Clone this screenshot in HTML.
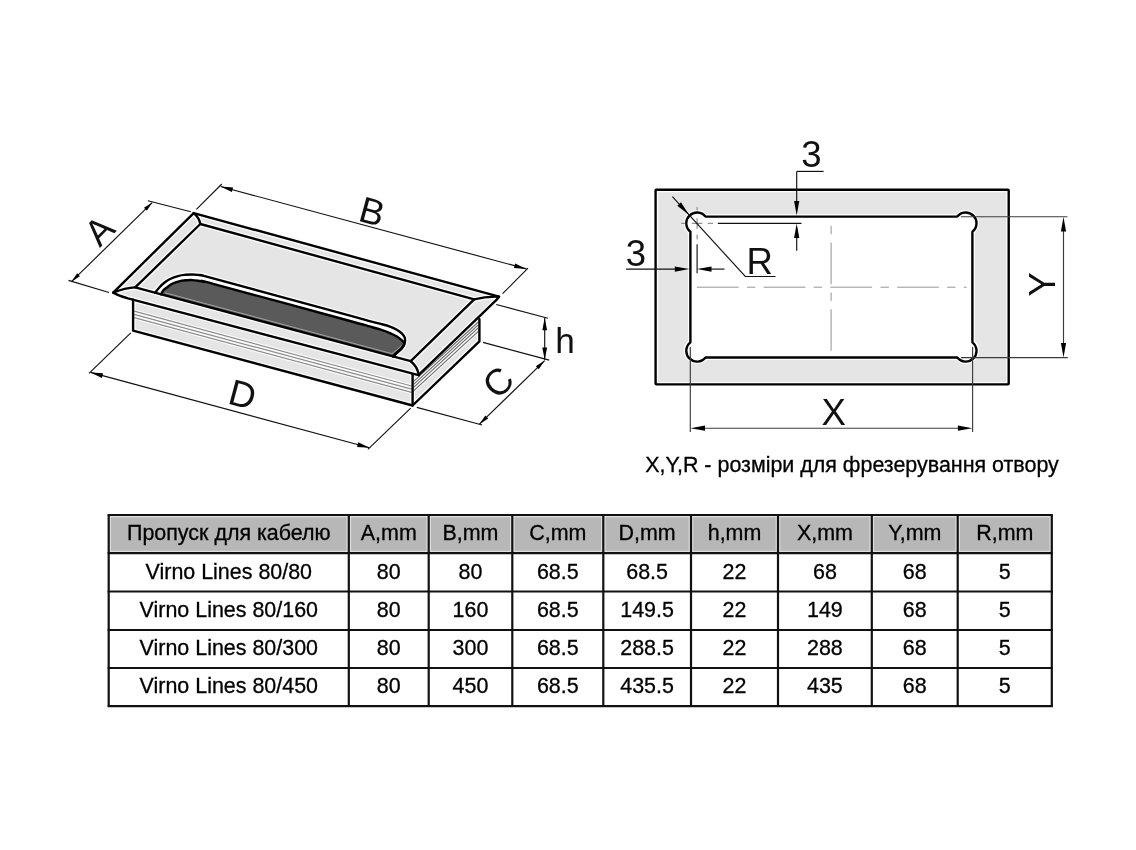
<!DOCTYPE html>
<html><head><meta charset="utf-8"><title>Virno Lines</title>
<style>
html,body{margin:0;padding:0;background:#fff;}
body{width:1136px;height:850px;overflow:hidden;position:relative;font-family:"Liberation Sans",sans-serif;}
svg{position:absolute;left:0;top:0;display:block;will-change:transform;transform:translateZ(0)}
text{font-family:"Liberation Sans",sans-serif;fill:#111}
.tk{stroke:#000;stroke-width:2.4;fill:none;stroke-linejoin:round;stroke-linecap:round}
.th{stroke:#111;stroke-width:1.15;fill:none}
.tg{stroke:#3c3c3c;stroke-width:1.15;fill:none}
.gl{stroke:#777;stroke-width:1;fill:none}
.cl{stroke:#8e8e8e;stroke-width:.95;fill:none}
.gr2{stroke:#6a6a6a;stroke-width:1.15;fill:none}
.gr{stroke:#8c8c8c;stroke-width:1.2;fill:none}
.hl{stroke:#fff;stroke-width:5;fill:none;stroke-linejoin:round;stroke-linecap:butt;opacity:.9}
.hg{stroke:#fff;stroke-width:3.4;fill:none;opacity:.9}
.ll{stroke:#a2a2a2;stroke-width:1;fill:none}
.ar{fill:#000;stroke:none}
.t{font-size:21.45px;text-anchor:middle;fill:#000;stroke:#000;stroke-width:.3}
.big{font-size:36.6px;text-anchor:middle}
</style></head><body>
<svg width="1136" height="850" viewBox="0 0 1136 850">
<rect x="0" y="0" width="1136" height="850" fill="#fff"/>
<!--LEFT-->
<g id="left">
<polygon points="133.10,299.60 412.60,374.60 479.40,319.20 479.40,341.40 412.60,405.50 133.10,330.70" fill="#e5e5e5"/>
<polygon points="113.20,292.60 193.70,213.10 499.00,296.70 418.90,375.00" fill="#e5e5e5"/>
<line class="hg" x1="134.10" y1="311.20" x2="411.60" y2="386.00"/>
<line class="hg" x1="134.10" y1="314.40" x2="411.60" y2="389.20"/>
<line class="hg" x1="134.10" y1="317.60" x2="411.60" y2="392.40"/>
<line class="hg" x1="413.60" y1="381.45" x2="478.30" y2="322.00"/>
<line class="hg" x1="413.60" y1="384.35" x2="478.30" y2="324.90"/>
<line class="hg" x1="413.60" y1="387.35" x2="478.30" y2="327.80"/>
<line class="hg" x1="413.60" y1="390.85" x2="478.30" y2="331.40"/>
<polyline class="hl" points="133.10,299.60 133.10,330.70 412.60,405.50 479.40,341.40 479.40,319.20"/>
<line class="hl" x1="412.60" y1="374.60" x2="412.60" y2="405.50"/>
<path class="hl" d="M155.20,292.76 C155.88,291.88 157.93,289.04 159.30,287.50 C160.67,285.96 161.68,284.88 163.40,283.50 C165.12,282.12 167.03,280.48 169.60,279.20 C172.17,277.92 176.15,276.53 178.80,275.80 C181.45,275.07 183.23,275.01 185.50,274.80 C187.77,274.59 190.32,274.53 192.40,274.55 C194.48,274.57 196.15,274.69 198.00,274.90 C199.85,275.11 200.67,275.13 203.50,275.80 C206.33,276.47 190.58,272.25 215.00,278.90 C239.42,285.55 324.42,308.72 350.00,315.70 C375.58,322.68 363.37,319.43 368.50,320.80 C373.63,322.17 377.22,322.93 380.80,323.90 C384.38,324.87 387.33,325.63 390.00,326.60 C392.67,327.57 394.83,328.57 396.80,329.70 C398.77,330.83 400.52,332.17 401.80,333.40 C403.08,334.63 403.95,335.87 404.50,337.10 C405.05,338.33 405.15,339.57 405.10,340.80 C405.05,342.03 404.75,343.27 404.20,344.50 C403.65,345.73 402.83,346.97 401.80,348.20 C400.77,349.43 399.47,350.52 398.00,351.90 C396.53,353.28 393.83,355.70 393.00,356.46"/>
<path class="hl" d="M418.50,375.20 L128,298.35 Q118.5,295.6 113.2,292.6 L193.7,213.1 L499.0,296.7 Q497.6,298.6 496.2,300.2 L419.20,374.40"/>
<polygon class="hl" points="135.20,287.40 200.30,224.00 474.20,299.40 410.70,361.20"/>
<path class="hl" d="M193.7,213.1 Q199.2,217.6 200.3,224.0"/>
<path class="hl" d="M113.2,292.6 Q125.2,287.8 135.2,287.4"/>
<path class="hl" d="M499.0,296.7 Q486.0,296.2 474.2,299.4"/>
<path class="hl" d="M410.7,361.2 Q417.2,366.2 418.9,375.0"/>
<path d="M155.20,292.76 C155.88,291.88 157.93,289.04 159.30,287.50 C160.67,285.96 161.68,284.88 163.40,283.50 C165.12,282.12 167.03,280.48 169.60,279.20 C172.17,277.92 176.15,276.53 178.80,275.80 C181.45,275.07 183.23,275.01 185.50,274.80 C187.77,274.59 190.32,274.53 192.40,274.55 C194.48,274.57 196.15,274.69 198.00,274.90 C199.85,275.11 200.67,275.13 203.50,275.80 C206.33,276.47 190.58,272.25 215.00,278.90 C239.42,285.55 324.42,308.72 350.00,315.70 C375.58,322.68 363.37,319.43 368.50,320.80 C373.63,322.17 377.22,322.93 380.80,323.90 C384.38,324.87 387.33,325.63 390.00,326.60 C392.67,327.57 394.83,328.57 396.80,329.70 C398.77,330.83 400.52,332.17 401.80,333.40 C403.08,334.63 403.95,335.87 404.50,337.10 C405.05,338.33 405.15,339.57 405.10,340.80 C405.05,342.03 404.75,343.27 404.20,344.50 C403.65,345.73 402.83,346.97 401.80,348.20 C400.77,349.43 399.47,350.52 398.00,351.90 C396.53,353.28 393.83,355.70 393.00,356.46 Z" fill="#fff"/>
<path d="M161.00,294.31 C161.40,293.64 162.48,291.39 163.40,290.30 C164.32,289.21 164.97,288.93 166.50,287.80 C168.03,286.67 170.03,284.68 172.60,283.50 C175.17,282.32 179.50,281.25 181.90,280.70 C184.30,280.15 185.25,280.30 187.00,280.20 C188.75,280.10 190.57,280.00 192.40,280.10 C194.23,280.20 196.15,280.50 198.00,280.80 C199.85,281.10 200.67,281.32 203.50,281.90 C206.33,282.48 190.58,277.78 215.00,284.30 C239.42,290.82 324.42,314.02 350.00,321.00 C375.58,327.98 363.37,324.75 368.50,326.20 C373.63,327.65 377.22,328.55 380.80,329.70 C384.38,330.85 387.33,331.97 390.00,333.10 C392.67,334.23 394.95,335.42 396.80,336.50 C398.65,337.58 399.97,338.65 401.10,339.60 C402.23,340.55 403.08,341.38 403.60,342.20 C404.12,343.02 404.50,343.50 404.20,344.50 C403.90,345.50 402.83,346.97 401.80,348.20 C400.77,349.43 399.47,350.52 398.00,351.90 C396.53,353.28 393.83,355.70 393.00,356.46 Z" fill="#5a5a5a"/>
<path class="ll" d="M164.8,292.73 L391.8,353.64 Q398.0,349.8 401.3,345.6"/>
<line class="gr" x1="134.10" y1="311.20" x2="411.60" y2="386.00"/>
<line class="gr" x1="134.10" y1="314.40" x2="411.60" y2="389.20"/>
<line class="gr" x1="134.10" y1="317.60" x2="411.60" y2="392.40"/>
<line class="gr2" x1="413.60" y1="381.45" x2="478.30" y2="322.00"/>
<line class="gr2" x1="413.60" y1="384.35" x2="478.30" y2="324.90"/>
<line class="gr2" x1="413.60" y1="387.35" x2="478.30" y2="327.80"/>
<line class="gr2" x1="413.60" y1="390.85" x2="478.30" y2="331.40"/>
<polyline class="tk" points="133.10,299.60 133.10,330.70 412.60,405.50 479.40,341.40 479.40,319.20"/>
<line class="tk" x1="412.60" y1="374.60" x2="412.60" y2="405.50"/>
<path class="tk" d="M155.20,292.76 C155.88,291.88 157.93,289.04 159.30,287.50 C160.67,285.96 161.68,284.88 163.40,283.50 C165.12,282.12 167.03,280.48 169.60,279.20 C172.17,277.92 176.15,276.53 178.80,275.80 C181.45,275.07 183.23,275.01 185.50,274.80 C187.77,274.59 190.32,274.53 192.40,274.55 C194.48,274.57 196.15,274.69 198.00,274.90 C199.85,275.11 200.67,275.13 203.50,275.80 C206.33,276.47 190.58,272.25 215.00,278.90 C239.42,285.55 324.42,308.72 350.00,315.70 C375.58,322.68 363.37,319.43 368.50,320.80 C373.63,322.17 377.22,322.93 380.80,323.90 C384.38,324.87 387.33,325.63 390.00,326.60 C392.67,327.57 394.83,328.57 396.80,329.70 C398.77,330.83 400.52,332.17 401.80,333.40 C403.08,334.63 403.95,335.87 404.50,337.10 C405.05,338.33 405.15,339.57 405.10,340.80 C405.05,342.03 404.75,343.27 404.20,344.50 C403.65,345.73 402.83,346.97 401.80,348.20 C400.77,349.43 399.47,350.52 398.00,351.90 C396.53,353.28 393.83,355.70 393.00,356.46"/>
<path class="tk" d="M161.00,294.31 C161.40,293.64 162.48,291.39 163.40,290.30 C164.32,289.21 164.97,288.93 166.50,287.80 C168.03,286.67 170.03,284.68 172.60,283.50 C175.17,282.32 179.50,281.25 181.90,280.70 C184.30,280.15 185.25,280.30 187.00,280.20 C188.75,280.10 190.57,280.00 192.40,280.10 C194.23,280.20 196.15,280.50 198.00,280.80 C199.85,281.10 200.67,281.32 203.50,281.90 C206.33,282.48 190.58,277.78 215.00,284.30 C239.42,290.82 324.42,314.02 350.00,321.00 C375.58,327.98 363.37,324.75 368.50,326.20 C373.63,327.65 377.22,328.55 380.80,329.70 C384.38,330.85 387.33,331.97 390.00,333.10 C392.67,334.23 394.95,335.42 396.80,336.50 C398.65,337.58 399.97,338.65 401.10,339.60 C402.23,340.55 403.08,341.38 403.60,342.20 C404.12,343.02 404.50,343.50 404.20,344.50 C403.90,345.50 402.83,346.97 401.80,348.20 C400.77,349.43 399.47,350.52 398.00,351.90 C396.53,353.28 393.83,355.70 393.00,356.46"/>
<path class="tk" d="M418.50,375.20 L128,298.35 Q118.5,295.6 113.2,292.6 L193.7,213.1 L499.0,296.7 Q497.6,298.6 496.2,300.2 L419.20,374.40"/>
<polygon class="tk" points="135.20,287.40 200.30,224.00 474.20,299.40 410.70,361.20"/>
<path class="tk" d="M193.7,213.1 Q199.2,217.6 200.3,224.0"/>
<path class="tk" d="M113.2,292.6 Q125.2,287.8 135.2,287.4"/>
<path class="tk" d="M499.0,296.7 Q486.0,296.2 474.2,299.4"/>
<path class="tk" d="M410.7,361.2 Q417.2,366.2 418.9,375.0"/>
<line class="th" x1="71.70" y1="281.40" x2="152.20" y2="202.60"/>
<path class="ar" d="M71.70,281.40 L77.09,273.33 L79.89,276.18Z"/>
<path class="ar" d="M152.20,202.60 L146.81,210.67 L144.01,207.82Z"/>
<line class="th" x1="68.50" y1="280.40" x2="109.00" y2="292.50"/>
<line class="th" x1="147.90" y1="200.70" x2="190.80" y2="211.80"/>
<line class="th" x1="220.60" y1="186.50" x2="526.40" y2="268.90"/>
<path class="ar" d="M220.60,186.50 L233.10,187.38 L231.85,192.02Z"/>
<path class="ar" d="M526.40,268.90 L513.90,268.02 L515.15,263.38Z"/>
<line class="th" x1="196.40" y1="209.40" x2="221.80" y2="184.00"/>
<line class="th" x1="502.60" y1="293.60" x2="528.00" y2="268.20"/>
<line class="th" x1="90.60" y1="372.40" x2="369.50" y2="447.80"/>
<path class="ar" d="M90.60,372.40 L103.10,373.29 L101.85,377.93Z"/>
<path class="ar" d="M369.50,447.80 L357.00,446.91 L358.25,442.27Z"/>
<line class="th" x1="130.80" y1="332.80" x2="89.00" y2="373.40"/>
<line class="th" x1="410.70" y1="408.20" x2="367.90" y2="449.40"/>
<line class="th" x1="479.40" y1="424.20" x2="544.70" y2="360.60"/>
<path class="ar" d="M479.40,424.20 L485.31,415.51 L488.24,418.52Z"/>
<path class="ar" d="M544.70,360.60 L538.79,369.29 L535.86,366.28Z"/>
<line class="th" x1="416.80" y1="407.40" x2="482.10" y2="425.00"/>
<line class="th" x1="483.00" y1="342.40" x2="549.20" y2="360.10"/>
<line class="th" x1="496.20" y1="304.50" x2="547.90" y2="318.20"/>
<line class="th" x1="544.70" y1="317.90" x2="544.70" y2="359.70"/>
<path class="ar" d="M544.70,317.90 L547.10,330.20 L542.30,330.20Z"/>
<path class="ar" d="M544.70,359.70 L542.30,347.40 L547.10,347.40Z"/>
<text class="big" transform="translate(98.9,230.0) rotate(-45.5)" x="0" y="13.1">A</text>
<text class="big" transform="translate(372.2,211.2) rotate(15.3)" x="0" y="13.1">B</text>
<text class="big" transform="translate(242.7,394.0) rotate(15.0)" x="0" y="13.1">D</text>
<text class="big" transform="translate(497.8,382.0) rotate(-44.4)" x="0" y="13.1">C</text>
<text class="big" style="font-size:35.2px" x="565" y="353.3">h</text>
</g>
<!--RIGHT-->
<g id="right">
<rect x="655.6" y="189.8" width="353.1" height="194.6" fill="#e5e5e5"/>
<rect x="655.6" y="189.8" width="353.1" height="194.6" fill="none" class="hl"/>
<path d="M705.57,216.6 L957.23,216.6 A10.8,10.8 0 1 1 972.4,231.77 L972.4,342.33 A10.8,10.8 0 1 1 957.23,357.5 L705.57,357.5 A10.8,10.8 0 1 1 690.4,342.33 L690.4,231.77 A10.8,10.8 0 1 1 705.57,216.6Z" class="hl"/>
<path d="M705.57,216.6 L957.23,216.6 A10.8,10.8 0 1 1 972.4,231.77 L972.4,342.33 A10.8,10.8 0 1 1 957.23,357.5 L705.57,357.5 A10.8,10.8 0 1 1 690.4,342.33 L690.4,231.77 A10.8,10.8 0 1 1 705.57,216.6Z" fill="#fff"/>
<path d="M705.57,216.6 L957.23,216.6 A10.8,10.8 0 1 1 972.4,231.77 L972.4,342.33 A10.8,10.8 0 1 1 957.23,357.5 L705.57,357.5 A10.8,10.8 0 1 1 690.4,342.33 L690.4,231.77 A10.8,10.8 0 1 1 705.57,216.6Z" class="tk"/>
<rect x="655.6" y="189.8" width="353.1" height="194.6" rx="0.8" class="tk"/>
<!--RDIM-->
<line class="gl" x1="681.2" y1="223.3" x2="685.2" y2="223.3"/>
<line class="gl" x1="691.8" y1="223.3" x2="702.4" y2="223.3"/>
<line class="gl" x1="707.7" y1="223.3" x2="713.0" y2="223.3"/>
<line class="th" x1="717.8" y1="223.3" x2="801.5" y2="223.3"/>
<line class="gl" x1="697.1" y1="207.2" x2="697.1" y2="210.3"/>
<line class="gl" x1="697.1" y1="218.2" x2="697.1" y2="228.8"/>
<line class="gl" x1="697.1" y1="234.6" x2="697.1" y2="239.4"/>
<line class="th" x1="697.1" y1="244.3" x2="697.1" y2="273.3"/>
<line class="cl" x1="696.9" y1="287.2" x2="966.6" y2="287.2" stroke-dasharray="41.7 8.35 8.35 8.35"/>
<line class="cl" x1="831.1" y1="225.9" x2="831.1" y2="350.8" stroke-dasharray="8.3 8.3 41.8 8.3"/>
<line class="th" x1="796.7" y1="171.4" x2="823.6" y2="171.4"/>
<line class="th" x1="796.7" y1="171.4" x2="796.7" y2="205"/>
<path class="ar" d="M796.70,215.60 L794.10,201.10 L799.30,201.10Z"/>
<path class="ar" d="M796.70,223.60 L799.30,238.10 L794.10,238.10Z"/>
<line class="th" x1="796.7" y1="235" x2="796.7" y2="250.7"/>
<text class="big" x="811.3" y="166.6">3</text>
<line class="th" x1="626.1" y1="269.1" x2="680" y2="269.1"/>
<path class="ar" d="M689.30,269.10 L674.80,271.70 L674.80,266.50Z"/>
<path class="ar" d="M697.00,269.10 L711.50,266.50 L711.50,271.70Z"/>
<line class="th" x1="708" y1="269.1" x2="724.5" y2="269.1"/>
<text class="big" x="635.8" y="266.2">3</text>
<polyline class="th" points="672.4,196.6 745.3,276.5 775.5,276.5"/>
<path class="ar" d="M688.90,214.70 L677.28,205.67 L680.97,202.30Z"/>
<text class="big" x="759.8" y="274.2">R</text>
<line class="tg" x1="960.9" y1="216.7" x2="1067.4" y2="216.7"/>
<line class="tg" x1="960.9" y1="357.6" x2="1067.8" y2="357.6"/>
<line class="tg" x1="1063.5" y1="225" x2="1063.5" y2="350"/>
<path class="ar" d="M1063.50,216.90 L1066.10,231.40 L1060.90,231.40Z"/>
<path class="ar" d="M1063.50,357.40 L1060.90,342.90 L1066.10,342.90Z"/>
<text class="big" transform="translate(1054.8,284.2) rotate(-90)" x="0" y="0">Y</text>
<line class="tg" x1="690.3" y1="347.1" x2="690.3" y2="431.9"/>
<line class="tg" x1="972.6" y1="347.1" x2="972.6" y2="431.9"/>
<line class="tg" x1="700" y1="428.2" x2="963" y2="428.2"/>
<path class="ar" d="M690.50,428.20 L705.00,425.60 L705.00,430.80Z"/>
<path class="ar" d="M972.40,428.20 L957.90,430.80 L957.90,425.60Z"/>
<text class="big" x="833.8" y="424.6">X</text>
<text class="t" x="852" y="472.4">X,Y,R - розміри для фрезерування отвору</text>
</g>
<!--TABLE-->
<g id="table">
<rect x="108.7" y="515.0" width="943.1" height="38.1" fill="#dedede"/>
<rect x="111.0" y="517.3" width="235.5" height="33.5" fill="#b7b7b7"/>
<rect x="351.1" y="517.3" width="75.3" height="33.5" fill="#b7b7b7"/>
<rect x="431.0" y="517.3" width="79.0" height="33.5" fill="#b7b7b7"/>
<rect x="514.6" y="517.3" width="86.4" height="33.5" fill="#b7b7b7"/>
<rect x="605.6" y="517.3" width="83.1" height="33.5" fill="#b7b7b7"/>
<rect x="693.3" y="517.3" width="82.4" height="33.5" fill="#b7b7b7"/>
<rect x="780.3" y="517.3" width="89.2" height="33.5" fill="#b7b7b7"/>
<rect x="874.1" y="517.3" width="81.3" height="33.5" fill="#b7b7b7"/>
<rect x="960.0" y="517.3" width="89.5" height="33.5" fill="#b7b7b7"/>
<line x1="107.60000000000001" y1="515.0" x2="1052.8999999999999" y2="515.0" stroke="#111" stroke-width="2.2"/>
<line x1="107.60000000000001" y1="553.1" x2="1052.8999999999999" y2="553.1" stroke="#111" stroke-width="2.2"/>
<line x1="107.60000000000001" y1="591.5" x2="1052.8999999999999" y2="591.5" stroke="#111" stroke-width="2.2"/>
<line x1="107.60000000000001" y1="630.0" x2="1052.8999999999999" y2="630.0" stroke="#111" stroke-width="2.2"/>
<line x1="107.60000000000001" y1="668.0" x2="1052.8999999999999" y2="668.0" stroke="#111" stroke-width="2.2"/>
<line x1="107.60000000000001" y1="706.2" x2="1052.8999999999999" y2="706.2" stroke="#111" stroke-width="2.2"/>
<line x1="108.7" y1="515.0" x2="108.7" y2="706.2" stroke="#111" stroke-width="2.2"/>
<line x1="348.8" y1="515.0" x2="348.8" y2="706.2" stroke="#111" stroke-width="2.2"/>
<line x1="428.7" y1="515.0" x2="428.7" y2="706.2" stroke="#111" stroke-width="2.2"/>
<line x1="512.3" y1="515.0" x2="512.3" y2="706.2" stroke="#111" stroke-width="2.2"/>
<line x1="603.3" y1="515.0" x2="603.3" y2="706.2" stroke="#111" stroke-width="2.2"/>
<line x1="691.0" y1="515.0" x2="691.0" y2="706.2" stroke="#111" stroke-width="2.2"/>
<line x1="778.0" y1="515.0" x2="778.0" y2="706.2" stroke="#111" stroke-width="2.2"/>
<line x1="871.8" y1="515.0" x2="871.8" y2="706.2" stroke="#111" stroke-width="2.2"/>
<line x1="957.7" y1="515.0" x2="957.7" y2="706.2" stroke="#111" stroke-width="2.2"/>
<line x1="1051.8" y1="515.0" x2="1051.8" y2="706.2" stroke="#111" stroke-width="2.2"/>
<text class="t" x="228.8" y="540.2">Пропуск для кабелю</text>
<text class="t" x="388.8" y="540.2">A,mm</text>
<text class="t" x="470.5" y="540.2">B,mm</text>
<text class="t" x="557.8" y="540.2">C,mm</text>
<text class="t" x="647.1" y="540.2">D,mm</text>
<text class="t" x="734.5" y="540.2">h,mm</text>
<text class="t" x="824.9" y="540.2">X,mm</text>
<text class="t" x="914.8" y="540.2">Y,mm</text>
<text class="t" x="1004.8" y="540.2">R,mm</text>
<text class="t" x="228.8" y="578.5">Virno Lines 80/80</text>
<text class="t" x="388.8" y="578.5">80</text>
<text class="t" x="470.5" y="578.5">80</text>
<text class="t" x="557.8" y="578.5">68.5</text>
<text class="t" x="647.1" y="578.5">68.5</text>
<text class="t" x="734.5" y="578.5">22</text>
<text class="t" x="824.9" y="578.5">68</text>
<text class="t" x="914.8" y="578.5">68</text>
<text class="t" x="1004.8" y="578.5">5</text>
<text class="t" x="228.8" y="616.9">Virno Lines 80/160</text>
<text class="t" x="388.8" y="616.9">80</text>
<text class="t" x="470.5" y="616.9">160</text>
<text class="t" x="557.8" y="616.9">68.5</text>
<text class="t" x="647.1" y="616.9">149.5</text>
<text class="t" x="734.5" y="616.9">22</text>
<text class="t" x="824.9" y="616.9">149</text>
<text class="t" x="914.8" y="616.9">68</text>
<text class="t" x="1004.8" y="616.9">5</text>
<text class="t" x="228.8" y="655.2">Virno Lines 80/300</text>
<text class="t" x="388.8" y="655.2">80</text>
<text class="t" x="470.5" y="655.2">300</text>
<text class="t" x="557.8" y="655.2">68.5</text>
<text class="t" x="647.1" y="655.2">288.5</text>
<text class="t" x="734.5" y="655.2">22</text>
<text class="t" x="824.9" y="655.2">288</text>
<text class="t" x="914.8" y="655.2">68</text>
<text class="t" x="1004.8" y="655.2">5</text>
<text class="t" x="228.8" y="693.4">Virno Lines 80/450</text>
<text class="t" x="388.8" y="693.4">80</text>
<text class="t" x="470.5" y="693.4">450</text>
<text class="t" x="557.8" y="693.4">68.5</text>
<text class="t" x="647.1" y="693.4">435.5</text>
<text class="t" x="734.5" y="693.4">22</text>
<text class="t" x="824.9" y="693.4">435</text>
<text class="t" x="914.8" y="693.4">68</text>
<text class="t" x="1004.8" y="693.4">5</text>
</g>
</svg>
</body></html>
